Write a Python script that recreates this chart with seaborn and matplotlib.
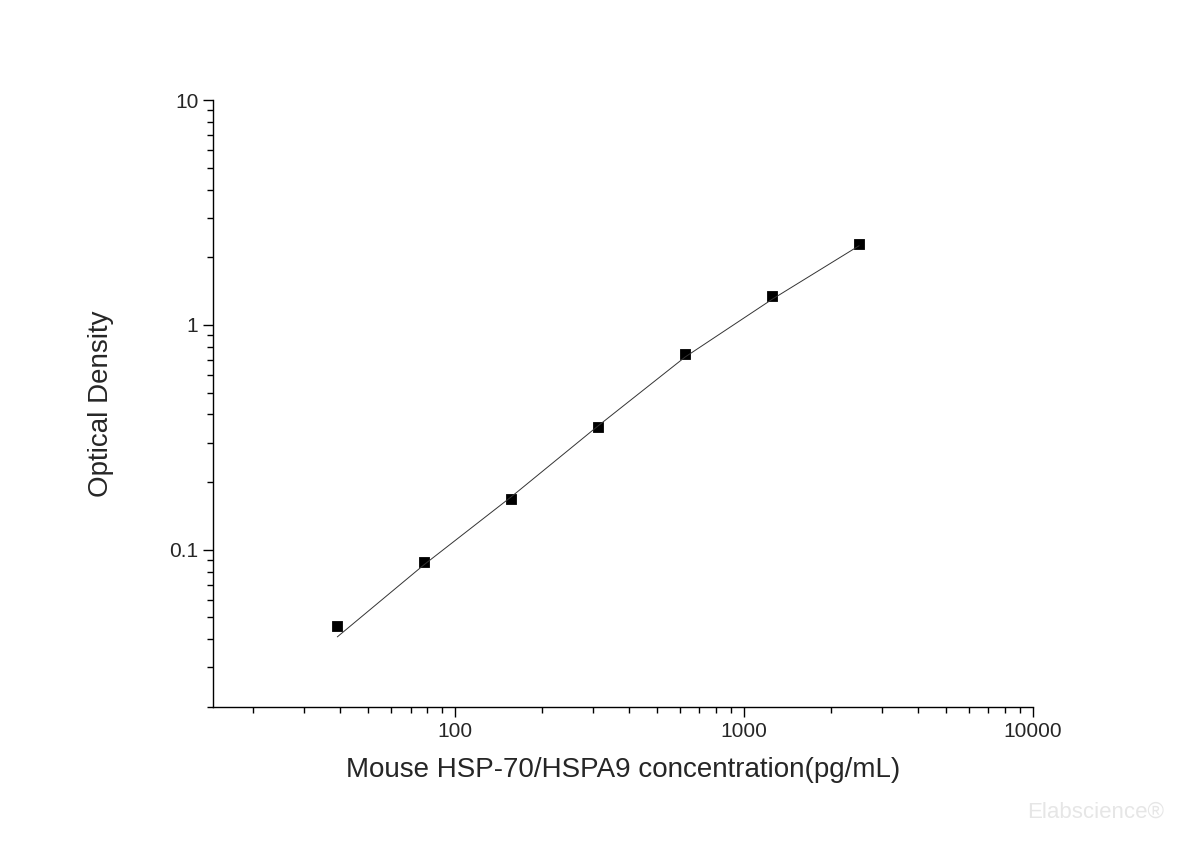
import matplotlib
matplotlib.use("Agg")
import matplotlib.pyplot as plt
import seaborn as sns
from matplotlib.ticker import FixedLocator, FixedFormatter, LogLocator, NullFormatter

# standard points
conc = [39.06, 78.13, 156.25, 312.5, 625, 1250, 2500]
od = [0.046, 0.088, 0.168, 0.352, 0.74, 1.34, 2.30]
# fitted curve
curve_x = [39.06, 78.13, 156.25, 312.5, 625, 1250, 2500]
curve_y = [0.041, 0.086, 0.172, 0.356, 0.72, 1.30, 2.25]

sns.set_style("ticks")
plt.rcParams['font.family'] = ['Liberation Sans', 'DejaVu Sans']

fig = plt.figure(figsize=(12, 8.48), dpi=100)
ax = fig.add_axes([0.1775, 0.1663, 0.6833, 0.7157])

sns.lineplot(x=curve_x, y=curve_y, color='#333333', linewidth=0.7, ax=ax)
sns.scatterplot(x=conc, y=od, marker='s', s=55, color='black', edgecolor='black', ax=ax)

ax.set_xscale('log')
ax.set_yscale('log')
ax.set_xlim(14.5, 10000)
ax.set_ylim(0.02, 10)
ax.xaxis.set_major_locator(FixedLocator([100, 1000, 10000]))
ax.xaxis.set_major_formatter(FixedFormatter(['100', '1000', '10000']))
ax.yaxis.set_major_locator(FixedLocator([0.1, 1, 10]))
ax.yaxis.set_major_formatter(FixedFormatter(['0.1', '1', '10']))
ax.xaxis.set_minor_locator(LogLocator(base=10, subs=range(2, 10)))
ax.yaxis.set_minor_locator(LogLocator(base=10, subs=range(2, 10)))
ax.xaxis.set_minor_formatter(NullFormatter())
ax.yaxis.set_minor_formatter(NullFormatter())
ax.tick_params(which='major', direction='out', length=7, width=1, labelsize=15, color='black')
ax.tick_params(which='minor', direction='out', length=4, width=1, color='black')
sns.despine(ax=ax)
for s in ['left', 'bottom']:
    ax.spines[s].set_color('black')
    ax.spines[s].set_linewidth(1)

ax.set_xlabel('Mouse HSP-70/HSPA9 concentration(pg/mL)', fontsize=20, labelpad=12)
ax.set_ylabel('Optical Density', fontsize=20, labelpad=40)

fig.text(0.97, 0.03, 'Elabscience®', color='#e6e6e6', fontsize=16, ha='right', va='bottom')

fig.savefig('out.png', dpi=100)
